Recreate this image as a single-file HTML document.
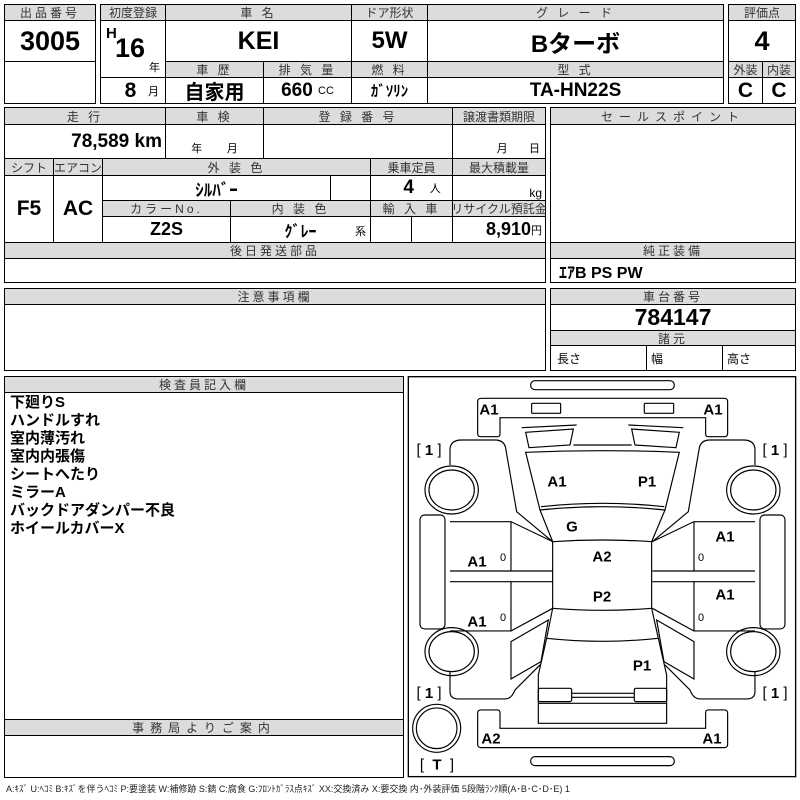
<!DOCTYPE html>
<html><head><meta charset="utf-8">
<style>
html,body{margin:0;padding:0;background:#fff;width:800px;height:800px;overflow:hidden}
body{position:relative;font-family:"Liberation Sans Narrow","Liberation Sans","Noto Sans CJK JP",sans-serif;color:#000}
.c{position:absolute;border:1px solid #000;box-sizing:border-box;display:flex;align-items:center;justify-content:center;white-space:nowrap;background:#fff}
.h{background:#dcdcdc;font-size:12px;letter-spacing:3px;font-family:"Liberation Sans","Noto Sans CJK JP",sans-serif;color:#333}
.v{font-weight:bold;font-size:21px}
.s{font-size:11px;font-weight:normal;font-family:"Liberation Sans","Noto Sans CJK JP",sans-serif}
</style></head><body>
<!-- box1 -->
<div class="c h" style="left:4px;top:4px;width:92px;height:17px">出品番号</div>
<div class="c v" style="left:4px;top:20px;width:92px;height:42px;font-size:27px">3005</div>
<div class="c" style="left:4px;top:61px;width:92px;height:43px"></div>
<!-- main -->
<div class="c h" style="left:100px;top:4px;width:66px;height:17px;letter-spacing:0">初度登録</div>
<div class="c h" style="left:165px;top:4px;width:187px;height:17px">車 名</div>
<div class="c h" style="left:351px;top:4px;width:77px;height:17px;letter-spacing:0">ドア形状</div>
<div class="c h" style="left:427px;top:4px;width:297px;height:17px">グ レ ー ド</div>
<div class="c" style="left:100px;top:20px;width:66px;height:58px"><span style="position:absolute;left:5px;top:4px;font-weight:bold;font-size:15px">H</span><span style="position:absolute;left:14px;top:12px;font-weight:bold;font-size:27px">16</span><span style="position:absolute;right:5px;bottom:2px;font-size:11px">年</span></div>
<div class="c v" style="left:165px;top:20px;width:187px;height:42px;font-size:25px">KEI</div>
<div class="c v" style="left:351px;top:20px;width:77px;height:42px;font-size:24px">5W</div>
<div class="c v" style="left:427px;top:20px;width:297px;height:42px;font-size:24px">Bターボ</div>
<div class="c h" style="left:165px;top:61px;width:99px;height:17px">車 歴</div>
<div class="c h" style="left:263px;top:61px;width:89px;height:17px">排 気 量</div>
<div class="c h" style="left:351px;top:61px;width:77px;height:17px">燃 料</div>
<div class="c h" style="left:427px;top:61px;width:297px;height:17px">型 式</div>
<div class="c v" style="left:100px;top:77px;width:66px;height:27px;justify-content:flex-end;padding-right:6px">8&nbsp;&nbsp;<span class="s">月</span></div>
<div class="c v" style="left:165px;top:77px;width:99px;height:27px;font-size:20px">自家用</div>
<div class="c v" style="left:263px;top:77px;width:89px;height:27px;font-size:19px">660&nbsp;<span class="s">CC</span></div>
<div class="c v" style="left:351px;top:77px;width:77px;height:27px;font-size:15px">ｶﾞｿﾘﾝ</div>
<div class="c v" style="left:427px;top:77px;width:297px;height:27px;font-size:19px">TA-HN22S</div>
<!-- score -->
<div class="c h" style="left:728px;top:4px;width:68px;height:17px;letter-spacing:0">評価点</div>
<div class="c v" style="left:728px;top:20px;width:68px;height:42px;font-size:27px">4</div>
<div class="c h" style="left:728px;top:61px;width:35px;height:17px;letter-spacing:0">外装</div>
<div class="c h" style="left:762px;top:61px;width:34px;height:17px;letter-spacing:0">内装</div>
<div class="c v" style="left:728px;top:77px;width:35px;height:27px">C</div>
<div class="c v" style="left:762px;top:77px;width:34px;height:27px">C</div>
<!-- block2 -->
<div class="c h" style="left:4px;top:107px;width:162px;height:18px">走 行</div>
<div class="c h" style="left:165px;top:107px;width:99px;height:18px">車 検</div>
<div class="c h" style="left:263px;top:107px;width:190px;height:18px">登 録 番 号</div>
<div class="c h" style="left:452px;top:107px;width:94px;height:18px;letter-spacing:0">譲渡書類期限</div>
<div class="c v" style="left:4px;top:124px;width:162px;height:35px;justify-content:flex-end;padding-right:3px;font-size:19px">78,589 km</div>
<div class="c" style="left:165px;top:124px;width:99px;height:35px;align-items:flex-end;font-size:11px;padding-bottom:2px">年&nbsp;&nbsp;&nbsp;&nbsp;&nbsp;&nbsp;&nbsp;&nbsp;月</div>
<div class="c" style="left:263px;top:124px;width:190px;height:35px"></div>
<div class="c" style="left:452px;top:124px;width:94px;height:35px;align-items:flex-end;justify-content:flex-end;padding:0 5px 2px 0;font-size:11px">月&nbsp;&nbsp;&nbsp;&nbsp;&nbsp;&nbsp;&nbsp;日</div>
<div class="c h" style="left:4px;top:158px;width:50px;height:18px;letter-spacing:0">シフト</div>
<div class="c h" style="left:53px;top:158px;width:50px;height:18px;letter-spacing:0">エアコン</div>
<div class="c h" style="left:102px;top:158px;width:269px;height:18px">外 装 色</div>
<div class="c h" style="left:370px;top:158px;width:83px;height:18px;letter-spacing:0">乗車定員</div>
<div class="c h" style="left:452px;top:158px;width:94px;height:18px;letter-spacing:0">最大積載量</div>
<div class="c v" style="left:4px;top:175px;width:50px;height:68px">F5</div>
<div class="c v" style="left:53px;top:175px;width:50px;height:68px">AC</div>
<div class="c v" style="left:102px;top:175px;width:229px;height:26px;font-size:17px">ｼﾙﾊﾞｰ</div>
<div class="c" style="left:330px;top:175px;width:41px;height:26px"></div>
<div class="c v" style="left:370px;top:175px;width:83px;height:26px;font-size:19px">&nbsp;&nbsp;&nbsp;&nbsp;4&nbsp;&nbsp;&nbsp;<span class="s">人</span></div>
<div class="c" style="left:452px;top:175px;width:94px;height:26px;justify-content:flex-end;padding-right:3px;font-size:12px;align-items:flex-end">kg</div>
<div class="c h" style="left:102px;top:200px;width:129px;height:17px">カラーNo.</div>
<div class="c h" style="left:230px;top:200px;width:141px;height:17px">内 装 色</div>
<div class="c h" style="left:370px;top:200px;width:83px;height:17px">輸 入 車</div>
<div class="c h" style="left:452px;top:200px;width:94px;height:17px;letter-spacing:0">リサイクル預託金</div>
<div class="c v" style="left:102px;top:216px;width:129px;height:27px;font-size:18px">Z2S</div>
<div class="c v" style="left:230px;top:216px;width:141px;height:27px;font-size:16px">ｸﾞﾚｰ<span class="s" style="position:absolute;right:4px;bottom:3px">系</span></div>
<div class="c" style="left:370px;top:216px;width:42px;height:27px"></div>
<div class="c" style="left:411px;top:216px;width:42px;height:27px"></div>
<div class="c v" style="left:452px;top:216px;width:94px;height:27px;justify-content:flex-end;padding-right:3px;font-size:18px">8,910<span class="s">円</span></div>
<div class="c h" style="left:4px;top:242px;width:542px;height:17px">後日発送部品</div>
<div class="c" style="left:4px;top:258px;width:542px;height:25px"></div>
<!-- right -->
<div class="c h" style="left:550px;top:107px;width:246px;height:18px;letter-spacing:6px">セールスポイント</div>
<div class="c" style="left:550px;top:124px;width:246px;height:119px"></div>
<div class="c h" style="left:550px;top:242px;width:246px;height:17px">純正装備</div>
<div class="c v" style="left:550px;top:258px;width:246px;height:25px;justify-content:flex-start;padding-left:8px;font-size:16px">ｴｱB PS PW</div>
<div class="c h" style="left:4px;top:288px;width:542px;height:17px">注意事項欄</div>
<div class="c" style="left:4px;top:304px;width:542px;height:67px"></div>
<div class="c h" style="left:550px;top:288px;width:246px;height:17px">車台番号</div>
<div class="c v" style="left:550px;top:304px;width:246px;height:27px;font-size:23px">784147</div>
<div class="c h" style="left:550px;top:330px;width:246px;height:16px">諸元</div>
<div class="c" style="left:550px;top:345px;width:97px;height:26px;justify-content:flex-start;padding-left:6px;font-size:12px">長さ</div>
<div class="c" style="left:646px;top:345px;width:77px;height:26px;justify-content:flex-start;padding-left:4px;font-size:12px">幅</div>
<div class="c" style="left:722px;top:345px;width:74px;height:26px;justify-content:flex-start;padding-left:4px;font-size:12px">高さ</div>
<!-- inspector -->
<div class="c h" style="left:4px;top:376px;width:400px;height:17px">検査員記入欄</div>
<div class="c" style="left:4px;top:392px;width:400px;height:328px;align-items:flex-start;justify-content:flex-start"><div style="padding:1px 0 0 5px;font-weight:bold;font-size:15px;line-height:18px;font-family:'Liberation Sans','Noto Sans CJK JP',sans-serif">下廻りS<br>ハンドルすれ<br>室内薄汚れ<br>室内内張傷<br>シートへたり<br>ミラーA<br>バックドアダンパー不良<br>ホイールカバーX</div></div>
<div class="c h" style="left:4px;top:719px;width:400px;height:17px;letter-spacing:6px">事務局よりご案内</div>
<div class="c" style="left:4px;top:735px;width:400px;height:43px"></div>
<div class="c" style="left:408px;top:376px;width:388px;height:402px;border:none;background:none"></div>
<svg style="position:absolute;left:0;top:0" width="800" height="800">
<g transform="translate(405,375) scale(0.3333)" fill="none" stroke="#000" stroke-width="3.5">
<rect x="10" y="5" width="1162" height="1200" stroke-width="4"/>
<rect x="377" y="17" width="431" height="27" rx="13"/>
<rect x="377" y="1145" width="431" height="27" rx="13"/>
<path d="M230,70 H958 Q968,70 968,80 V175 Q968,185 958,185 H910 Q902,185 902,177 V128 H285 V177 Q285,185 277,185 H228 Q218,185 218,175 V80 Q218,70 230,70 Z"/>
<rect x="380" y="85" width="87" height="30" rx="3"/>
<rect x="718" y="85" width="88" height="30" rx="3"/>
<path d="M228,1005 H277 Q285,1005 285,1013 V1060 H902 V1013 Q902,1005 910,1005 H958 Q968,1005 968,1015 V1108 Q968,1118 958,1118 H228 Q218,1118 218,1108 V1015 Q218,1005 228,1005 Z"/>
<circle cx="95" cy="1060" r="72"/><circle cx="95" cy="1060" r="61"/>
<g id="half">
<ellipse cx="140" cy="345" rx="80" ry="72"/><ellipse cx="140" cy="345" rx="68" ry="60"/>
<ellipse cx="140" cy="830" rx="80" ry="72"/><ellipse cx="140" cy="830" rx="68" ry="60"/>
<rect x="45" y="420" width="75" height="342" rx="14"/>
<path d="M135,270 V225 Q135,195 170,195 H270 Q300,195 303,225 L335,410 L443,500"/>
<path d="M135,440 H318 L443,500 M318,440 V588 M135,588 H443 M135,620 H443 M318,620 V768 H135 M318,768 L443,700"/>
<path d="M318,800 L430,735 L408,860 L318,912 Z"/>
<path d="M135,890 V950 Q135,972 160,972 H300 Q320,972 330,945 L405,870"/>
<path d="M350,158 L515,150 M362,172 L505,162 L495,210 L372,218 Z"/>
</g>
<use href="#half" transform="translate(1185,0) scale(-1,1)"/>
<path d="M505,210 H680"/>
<path d="M362,232 Q592,222 823,232 L780,405 Q592,385 405,405 Z"/>
<path d="M408,395 Q592,375 778,395"/>
<path d="M405,405 L443,500 Q592,490 740,500 L780,405"/>
<path d="M443,500 V700 Q592,712 740,700 V500"/>
<path d="M443,700 L425,790 Q592,808 760,790 L740,700"/>
<path d="M425,790 L400,900 V1045 H785 V900 L760,790"/>
<rect x="400" y="940" width="100" height="40" rx="5"/>
<rect x="688" y="940" width="97" height="40" rx="5"/>
<path d="M500,955 H688 M500,967 H688 M400,985 H785"/>
</g>
<g font-family="Liberation Sans,sans-serif" font-weight="bold" font-size="15" text-anchor="middle" dominant-baseline="central">
<text x="489" y="410">A1</text><text x="713" y="410">A1</text>
<text x="557" y="482">A1</text><text x="647" y="482">P1</text>
<text x="572" y="527">G</text><text x="602" y="557">A2</text><text x="602" y="597">P2</text>
<text x="642" y="666">P1</text>
<text x="477" y="562">A1</text><text x="477" y="622">A1</text>
<text x="725" y="537">A1</text><text x="725" y="595">A1</text>
<text x="491" y="739">A2</text><text x="712" y="739">A1</text>
<text x="437" y="765">T</text>
</g>
<g font-family="Liberation Sans,sans-serif" font-size="15" text-anchor="middle" dominant-baseline="central">
<text x="429" y="450">[ <tspan font-weight="bold">1</tspan> ]</text>
<text x="775" y="450">[ <tspan font-weight="bold">1</tspan> ]</text>
<text x="429" y="693">[ <tspan font-weight="bold">1</tspan> ]</text>
<text x="775" y="693">[ <tspan font-weight="bold">1</tspan> ]</text>
<text x="422" y="765">[</text><text x="452" y="765">]</text>
<text x="503" y="558" font-size="11">0</text><text x="503" y="618" font-size="11">0</text>
<text x="701" y="558" font-size="11">0</text><text x="701" y="618" font-size="11">0</text>
</g>
</svg>
<div style="position:absolute;left:6px;top:782px;font-size:9px;white-space:nowrap;font-family:'Liberation Sans','Noto Sans CJK JP',sans-serif;color:#222">A:ｷｽﾞ U:ﾍｺﾐ B:ｷｽﾞを伴うﾍｺﾐ P:要塗装 W:補修跡 S:錆 C:腐食 G:ﾌﾛﾝﾄｶﾞﾗｽ点ｷｽﾞ XX:交換済み X:要交換 内･外装評価 5段階ﾗﾝｸ順(A･B･C･D･E) 1</div>
</body></html>
